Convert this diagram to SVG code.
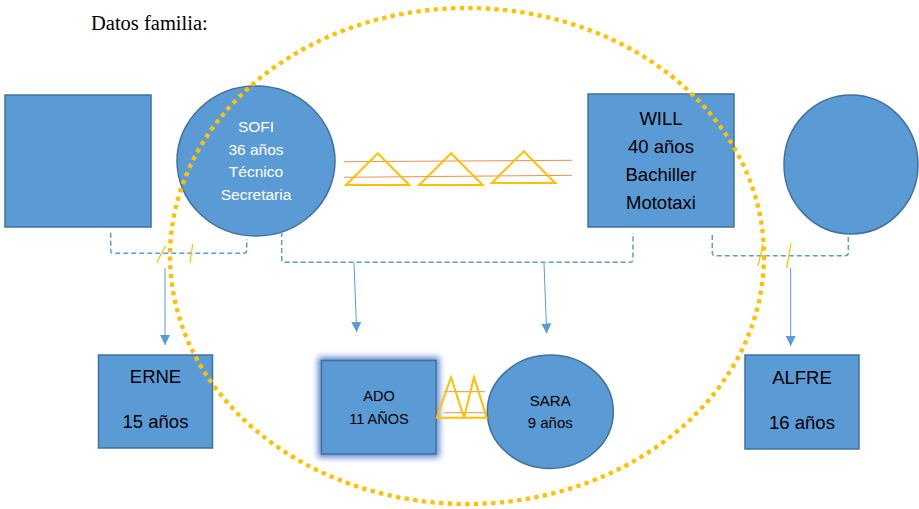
<svg xmlns="http://www.w3.org/2000/svg" width="919" height="509" viewBox="0 0 919 509">
<style>
.shape{fill:#5B9BD5;stroke:#41719C;stroke-width:1.5}
.tw{font-family:"Liberation Sans",Arial,sans-serif;fill:#FFFFFF;text-anchor:middle}
.tb{font-family:"Liberation Sans",Arial,sans-serif;fill:#000000;text-anchor:middle}
.dash{fill:none;stroke:#5B9BD5;stroke-width:1.5;stroke-dasharray:5 3}
.arr{fill:none;stroke:#5B9BD5;stroke-width:1;marker-end:url(#ah)}
.slash{stroke:#FFC000;stroke-width:1.2}
.tri{fill:none;stroke:#FFC000;stroke-width:2}
.ol{stroke:#ED7D31;stroke-width:1;stroke-opacity:0.85}
</style>
<defs>
<marker id="ah" viewBox="0 0 10 10" refX="10" refY="5" markerWidth="10" markerHeight="10" markerUnits="userSpaceOnUse" orient="auto">
<path d="M0,0 L10,5 L0,10 Z" fill="#5B9BD5"/>
</marker>
<filter id="glow" x="-30%" y="-30%" width="160%" height="160%">
<feGaussianBlur stdDeviation="3"/>
</filter>
</defs>
<rect width="919" height="509" fill="#FFFFFF"/>
<text x="91" y="30" font-family="'Liberation Serif','Times New Roman',serif" font-size="20.5" fill="#000">Datos familia:</text>

<g id="left-father">
<rect class="shape" x="5" y="95" width="146" height="132"/>
</g>
<g id="sofi">
<ellipse class="shape" cx="256" cy="161" rx="79" ry="75"/>
<text class="tw" font-size="15.5" x="256" y="132">SOFI</text>
<text class="tw" font-size="15.5" x="256" y="154.5">36 años</text>
<text class="tw" font-size="15.5" x="256" y="177">Técnico</text>
<text class="tw" font-size="15.5" x="256" y="199.5">Secretaria</text>
</g>
<g id="will">
<rect class="shape" x="588" y="94" width="146" height="133"/>
<text class="tb" font-size="18.5" x="661" y="125">WILL</text>
<text class="tb" font-size="18.5" x="661" y="153">40 años</text>
<text class="tb" font-size="18.5" x="661" y="181">Bachiller</text>
<text class="tb" font-size="18.5" x="661" y="209">Mototaxi</text>
</g>
<g id="right-mother">
<ellipse class="shape" cx="851" cy="164.5" rx="67" ry="69.5"/>
</g>
<g id="erne">
<rect class="shape" x="98.5" y="355" width="114" height="93"/>
<text class="tb" font-size="18.5" x="155.5" y="383">ERNE</text>
<text class="tb" font-size="18.5" x="155.5" y="427.5">15 años</text>
</g>
<g id="alfre">
<rect class="shape" x="745" y="355" width="114" height="94"/>
<text class="tb" font-size="18.5" x="802" y="384">ALFRE</text>
<text class="tb" font-size="18.5" x="802" y="428.5">16 años</text>
</g>
<g id="ado">
<rect x="318" y="357" width="121.5" height="100.5" fill="#4472C4" opacity="0.85" filter="url(#glow)"/>
<rect class="shape" x="321.5" y="360.5" width="114.5" height="93.5"/>
<text class="tb" font-size="14.5" x="379" y="401">ADO</text>
<text class="tb" font-size="14.5" x="379" y="424">11 AÑOS</text>
</g>
<g id="sara">
<ellipse class="shape" cx="550.3" cy="411.7" rx="63" ry="56.7"/>
<text class="tb" font-size="15" x="550.3" y="406">SARA</text>
<text class="tb" font-size="15" x="550.3" y="428.3">9 años</text>
</g>

<g id="connectors">
<path class="dash" d="M110.7,232.7 V250.5 Q110.7,253.3 113.5,253.3 H244 Q246.7,253.3 246.7,250.5 V239"/>
<line class="slash" x1="156.7" y1="262.7" x2="165.7" y2="245.7"/>
<line class="slash" x1="190" y1="263" x2="192.7" y2="244"/>
<line class="arr" x1="165" y1="268" x2="165" y2="345"/>

<path class="dash" d="M281.7,232 V259.5 Q281.7,262.3 284.5,262.3 H630 Q633,262.3 633,259.5 V233"/>
<line class="arr" x1="354" y1="263" x2="356.7" y2="332"/>
<line class="arr" x1="544" y1="263" x2="546.7" y2="333.5"/>

<path class="dash" d="M712.3,235 V253 Q712.3,255.7 715,255.7 H845.5 Q848.3,255.7 848.3,253 V233"/>
<line class="slash" x1="758" y1="266" x2="763" y2="244"/>
<line class="slash" x1="786.7" y1="268.3" x2="791" y2="243.3"/>
<line class="arr" x1="790.7" y1="268" x2="790.7" y2="346"/>

<g id="conflict-sofi-will">
<line class="ol" x1="344" y1="161.7" x2="572" y2="160.3"/>
<line class="ol" x1="344" y1="177.3" x2="572" y2="175.3"/>
<path class="tri" d="M377.7,153.3 L409.3,185 L346,185 Z"/>
<path class="tri" d="M451,153.3 L482.7,185 L419.3,185 Z"/>
<path class="tri" d="M523.7,151.3 L555.3,183 L491.7,183 Z"/>
</g>
<g id="conflict-ado-sara">
<line class="ol" x1="444" y1="391.7" x2="485" y2="391.7"/>
<line class="ol" x1="444" y1="412.7" x2="485" y2="412.7"/>
<path class="tri" d="M451,377.3 L464,417.7 L436.7,417.7 Z"/>
<path class="tri" d="M474,377.3 L486.7,417.7 L464,417.7 Z"/>
</g>
</g>

<g id="household-boundary">
<ellipse cx="467" cy="256" rx="297" ry="248" fill="none" stroke="#FFC000" stroke-width="4.3" stroke-dasharray="4.3 4.4"/>
</g>
</svg>
